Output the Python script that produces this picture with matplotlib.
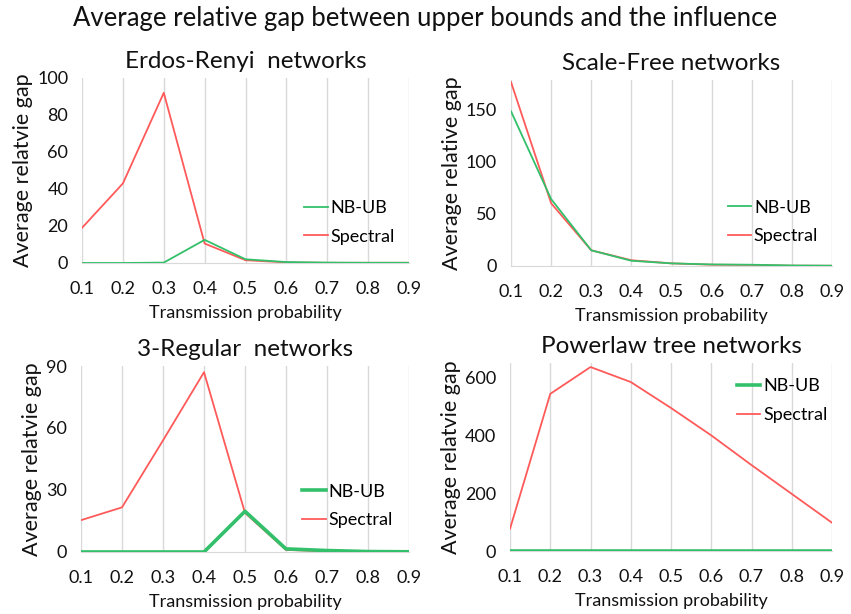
import numpy as np
import matplotlib
matplotlib.use('Agg')
import matplotlib.pyplot as plt

plt.rcParams['font.family'] = ['Lato', 'DejaVu Sans']

# transmission probabilities (categories)
probs = ['0.1', '0.2', '0.3', '0.4', '0.5', '0.6', '0.7', '0.8', '0.9']

# Erdos-Renyi
er_nbub = [0, 0, 0.2, 12.5, 2, 0.5, 0.2, 0.1, 0.1]
er_spectral = [19, 43, 92, 10.5, 1.5, 0.3, 0.1, 0.1, 0.1]

# Scale-Free
sf_nbub = [148, 64, 15, 5, 2.5, 1.5, 1.2, 0.5, 0.3]
sf_spectral = [176, 60, 15, 5.5, 2.5, 1.2, 1.0, 0.3, 0.2]

# 3-Regular
rr_nbub = [0, 0, 0, 0, 19.7, 1.5, 0.7, 0.2, 0.1]
rr_spectral = [15.4, 21.6, 54, 87, 18.9, 1.0, 0.3, 0.1, 0.1]

# Powerlaw tree
pl_nbub = [0, 0, 0, 0, 0, 0, 0, 0, 0]
pl_spectral = [77, 545, 638, 586, 496, 401, 298, 198, 98]

green = '#33c06a'
red = '#ff5a5a'
grid_c = '#d9d9d9'

fig = plt.figure(figsize=(8.51, 6.14), dpi=100)
fig.suptitle('Average relative gap between upper bounds and the influence',
             fontsize=18.5, y=0.99, color='#111111')

panels = [
    # title, ylabel, nbub, spectral, rect, ylim, yticks, lw_green, legend anchor
    ('Erdos-Renyi  networks', 'Average relatvie gap', er_nbub, er_spectral,
     [0.0964, 0.5717, 0.3842, 0.3013], 100, [0, 20, 40, 60, 80, 100], 1.3, (0.68, 0.22)),
    ('Scale-Free networks', 'Average relative gap', sf_nbub, sf_spectral,
     [0.6005, 0.5668, 0.3772, 0.3029], 178, [0, 50, 100, 150], 1.3, (0.675, 0.237)),
    ('3-Regular  networks', 'Average relatvie gap', rr_nbub, rr_spectral,
     [0.0952, 0.1010, 0.3854, 0.3029], 90, [0, 30, 60, 90], 2.6, (0.675, 0.247)),
    ('Powerlaw tree networks', 'Average relatvie gap', pl_nbub, pl_spectral,
     [0.5993, 0.1026, 0.3784, 0.3062], 652, [0, 200, 400, 600], 2.6, (0.705, 0.80)),
]

x = np.arange(len(probs))
for title, ylabel, nb, sp, rect, ytop, yt, lwg, anchor in panels:
    ax = fig.add_axes(rect)
    ax.plot(x, nb, color=green, lw=lwg, label='NB-UB', zorder=3)
    ax.plot(x, sp, color=red, lw=1.3, label='Spectral', zorder=2)
    ax.set_xlim(0, len(probs) - 1)
    ax.set_ylim(0, ytop)
    ax.set_xticks(x)
    ax.set_xticklabels(probs)
    ax.set_yticks(yt)
    ax.grid(axis='x', color=grid_c, lw=1)
    ax.set_axisbelow(True)
    for s in ['top', 'right', 'left']:
        ax.spines[s].set_visible(False)
    ax.spines['bottom'].set_color(grid_c)
    ax.tick_params(length=0, labelsize=13, colors='#111111')
    ax.tick_params(axis='x', pad=13)
    ax.tick_params(axis='y', pad=10)
    ax.set_title(title, fontsize=17.5, pad=7, color='#111111')
    ax.set_xlabel('Transmission probability', fontsize=13, labelpad=6, color='#111111')
    ax.set_ylabel(ylabel, fontsize=15.5, labelpad=3, color='#111111')
    ax.legend(loc='center left', bbox_to_anchor=anchor, frameon=False,
              fontsize=13, handlelength=1.3, handletextpad=0.15, labelspacing=0.7,
              borderaxespad=0, borderpad=0)

fig.savefig('out.png', dpi=100)
